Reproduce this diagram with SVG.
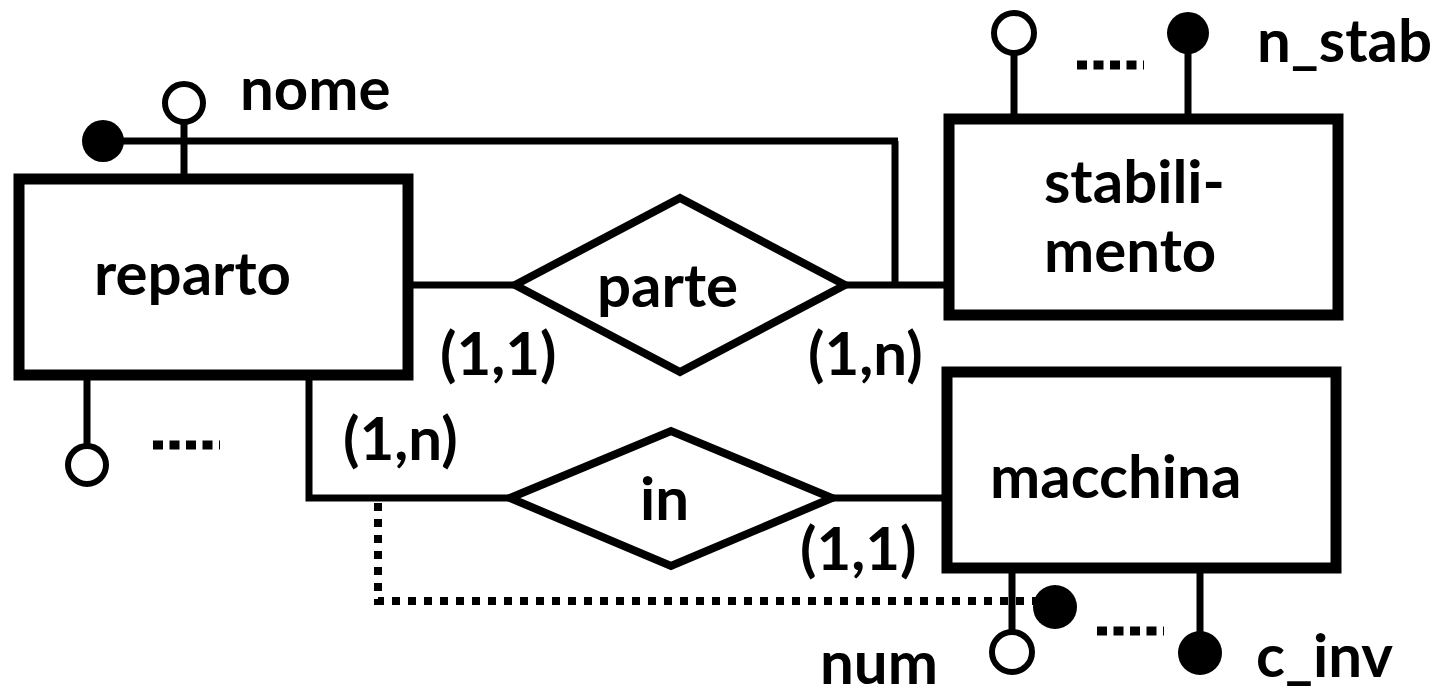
<svg xmlns="http://www.w3.org/2000/svg" width="1441" height="696" viewBox="0 0 1441 696">
<style>
.ent{fill:#fff;stroke:#000;stroke-width:11}
.rel{fill:#fff;stroke:#000;stroke-width:8;stroke-linejoin:miter}
.ln{fill:none;stroke:#000;stroke-width:7}
.dot{fill:none;stroke:#000;stroke-width:8;stroke-dasharray:8 8}
.ell{fill:none;stroke:#000;stroke-width:9;stroke-dasharray:10 6.5}
.oc{fill:#fff;stroke:#000;stroke-width:6}
.fc{fill:#000}
text{font-family:Lato,"Liberation Sans",sans-serif;font-weight:bold;font-size:60px;fill:#000}
</style>
<rect width="1441" height="696" fill="#fff"/>
<g id="connectors">
<line class="ln" x1="103" y1="141" x2="898" y2="141"/>
<line class="ln" x1="895" y1="141" x2="895" y2="285"/>
<line class="ln" x1="408" y1="285" x2="518" y2="285"/>
<line class="ln" x1="842" y1="285" x2="950" y2="285"/>
<polyline class="ln" points="309,375 309,498 512,498"/>
<line class="ln" x1="830" y1="498" x2="947" y2="498"/>
<polyline class="dot" points="378,503 378,601 1040,601"/>
<line class="ln" x1="184" y1="122" x2="184" y2="179"/>
<line class="ln" x1="87" y1="375" x2="87" y2="446"/>
<line class="ln" x1="1014" y1="53" x2="1014" y2="119"/>
<line class="ln" x1="1188" y1="40" x2="1188" y2="119"/>
<line class="ln" x1="1012" y1="568" x2="1012" y2="633"/>
<line class="ln" x1="1200" y1="568" x2="1200" y2="640"/>
</g>
<g id="reparto">
<rect class="ent" x="19" y="179" width="389" height="196"/>
<text x="94" y="295">reparto</text>
</g>
<g id="stabilimento">
<rect class="ent" x="949" y="119" width="389" height="196"/>
<text x="1044" y="203">stabili-</text>
<text x="1044" y="272">mento</text>
</g>
<g id="macchina">
<rect class="ent" x="947" y="372" width="389" height="196"/>
<text x="990" y="498">macchina</text>
</g>
<g id="parte">
<polygon class="rel" points="515,285 680,198 845,285 680,372"/>
<text x="597" y="307">parte</text>
</g>
<g id="in">
<polygon class="rel" points="510,498 671,431 832,498 671,566"/>
<text x="640" y="520">in</text>
</g>
<g id="attr-nome">
<circle class="oc" cx="184" cy="103" r="19"/>
<text x="240" y="110">nome</text>
</g>
<g id="key-reparto">
<circle class="fc" cx="103" cy="141" r="21"/>
</g>
<g id="attr-reparto-other">
<circle class="oc" cx="87" cy="465" r="19"/>
<line class="ell" x1="153" y1="445" x2="220" y2="445"/>
</g>
<g id="attr-stab-other">
<circle class="oc" cx="1014" cy="33" r="20"/>
<line class="ell" x1="1077" y1="65" x2="1144" y2="65"/>
</g>
<g id="attr-n_stab">
<circle class="fc" cx="1188" cy="33" r="21"/>
<text x="1257" y="62">n_stab</text>
</g>
<g id="attr-num">
<circle class="oc" cx="1012" cy="652" r="20"/>
<text x="820" y="684">num</text>
</g>
<g id="key-macchina">
<circle class="fc" cx="1055" cy="607" r="22"/>
<line class="ell" x1="1097" y1="631" x2="1164" y2="631"/>
</g>
<g id="attr-c_inv">
<circle class="fc" cx="1200" cy="653" r="22"/>
<text x="1256" y="677">c_inv</text>
</g>
<g id="cardinalities">
<text x="440" y="375">(1,1)</text>
<text x="808" y="375">(1,n)</text>
<text x="343" y="460">(1,n)</text>
<text x="800" y="570">(1,1)</text>
</g>
</svg>
